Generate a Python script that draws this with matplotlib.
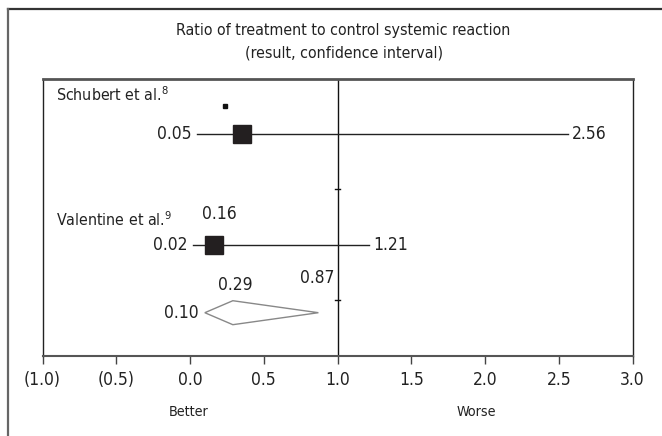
import matplotlib
matplotlib.use('Agg')
import matplotlib.pyplot as plt
from matplotlib.lines import Line2D
from matplotlib.patches import Polygon
from matplotlib import font_manager

# ---- data ----
studies = ['Schubert et al.', 'Valentine et al.']
refs = ['8', '9']
est = [0.35, 0.16]
lo = [0.05, 0.02]
hi = [2.56, 1.21]
pooled_lo, pooled_est, pooled_hi = 0.10, 0.29, 0.87
stray_dot_x = 0.24
xticks = [-1.0, -0.5, 0.0, 0.5, 1.0, 1.5, 2.0, 2.5, 3.0]
xticklabels = ['(1.0)', '(0.5)', '0.0', '0.5', '1.0', '1.5', '2.0', '2.5', '3.0']
title_lines = ['Ratio of treatment to control systemic reaction', '(result, confidence interval)']

# pick a narrow font if one is installed
entries = font_manager.fontManager.ttflist
FONT, STRETCH, FS = 'Roboto', 'normal', 11.0
narrow = [f for f in entries if f.name == 'Liberation Sans Narrow']
cond = [f for f in entries if 'DejaVuSansCondensed' in f.fname.replace('-', '')]
if narrow:
    FONT, STRETCH, FS = 'Liberation Sans Narrow', 'normal', 12.0
elif cond:
    FONT, STRETCH, FS = cond[0].name, cond[0].stretch, 11.0
plt.rcParams['font.family'] = [FONT, 'DejaVu Sans']
plt.rcParams['font.stretch'] = STRETCH

W, H = 662, 436
fig = plt.figure(figsize=(W / 100, H / 100), dpi=100)

def fx(px):
    return px / W

def fy(py):
    return 1 - py / H

NUM = dict(color='#222222', fontsize=FS * 1.14, fontstretch=STRETCH)
TTL = dict(color='#222222', fontsize=FS * 1.04, fontstretch=STRETCH)
LAB = dict(color='#222222', fontsize=FS * 1.04, fontstretch=STRETCH)
SMALL = dict(color='#222222', fontsize=(FS - 1.5) * 1.08, fontstretch=STRETCH)

# outer frame (top and left)
fig.add_artist(Line2D([fx(8), fx(662)], [fy(9), fy(9)], color='#333333', lw=1.6))
fig.add_artist(Line2D([fx(8), fx(8)], [fy(9), fy(436)], color='#666666', lw=1.6))

# title
fig.text(fx(343), fy(30), title_lines[0], ha='center', va='center', **TTL)
fig.text(fx(344), fy(53), title_lines[1], ha='center', va='center', **TTL)

L, R, T, B = 42.6, 632.5, 79, 356
ax = fig.add_axes([fx(L), fy(B), fx(R) - fx(L), fy(T) - fy(B)])
ax.set_xlim(-1.0, 3.0)
ax.set_ylim(2.0, -0.495)

for s in ['left', 'right']:
    ax.spines[s].set_color('#222222')
    ax.spines[s].set_linewidth(1.0)
ax.spines['top'].set_color('#555555')
ax.spines['top'].set_linewidth(2.0)
ax.spines['bottom'].set_color('#555555')
ax.spines['bottom'].set_linewidth(1.5)

ax.set_xticks(xticks)
ax.set_xticklabels(xticklabels, **NUM)
ax.tick_params(axis='x', length=6, width=1, color='#444444', pad=5)
ax.set_yticks([])

# reference line at 1.0
ax.axvline(1.0, color='#111111', lw=1.0)
for yt in [0.5, 1.5]:
    ax.plot([0.985, 1.02], [yt, yt], color='#111111', lw=1.0)

rows = [0, 1]
for i, r in enumerate(rows):
    ax.plot([lo[i], hi[i]], [r, r], color='#222222', lw=1.0, zorder=2)
    ax.plot(est[i], r, marker='s', markersize=12.5, color='#231f20', zorder=3)
    ax.text(lo[i] - 0.04, r, f'{lo[i]:.2f}', ha='right', va='center', **NUM)
    ax.text(hi[i] + 0.03, r, f'{hi[i]:.2f}', ha='left', va='center', **NUM)

ax.text(-0.909, -0.35, studies[0] + r'$^{\mathregular{' + refs[0] + '}}$', ha='left', va='center', **LAB)
ax.text(-0.909, 0.775, studies[1] + r'$^{\mathregular{' + refs[1] + '}}$', ha='left', va='center', **LAB)
ax.text(est[1] + 0.04, 0.72, f'{est[1]:.2f}', ha='center', va='center', **NUM)
ax.plot(stray_dot_x, -0.255, marker='s', markersize=3, color='#111111')

# pooled diamond
yd = 1.61
hh = 0.108
diamond = Polygon([[pooled_lo, yd], [pooled_est, yd - hh], [pooled_hi, yd], [pooled_est, yd + hh]],
                  closed=True, facecolor='white', edgecolor='#888888', lw=1.0, zorder=3)
ax.add_patch(diamond)
ax.text(pooled_lo - 0.04, yd, f'{pooled_lo:.2f}', ha='right', va='center', **NUM)
ax.text(pooled_est + 0.02, yd - 0.25, f'{pooled_est:.2f}', ha='center', va='center', **NUM)
ax.text(pooled_hi - 0.01, yd - 0.31, f'{pooled_hi:.2f}', ha='center', va='center', **NUM)

fig.text(fx(189), fy(412), 'Better', ha='center', va='center', **SMALL)
fig.text(fx(476), fy(412), 'Worse', ha='center', va='center', **SMALL)

fig.savefig('out.png', dpi=100)
